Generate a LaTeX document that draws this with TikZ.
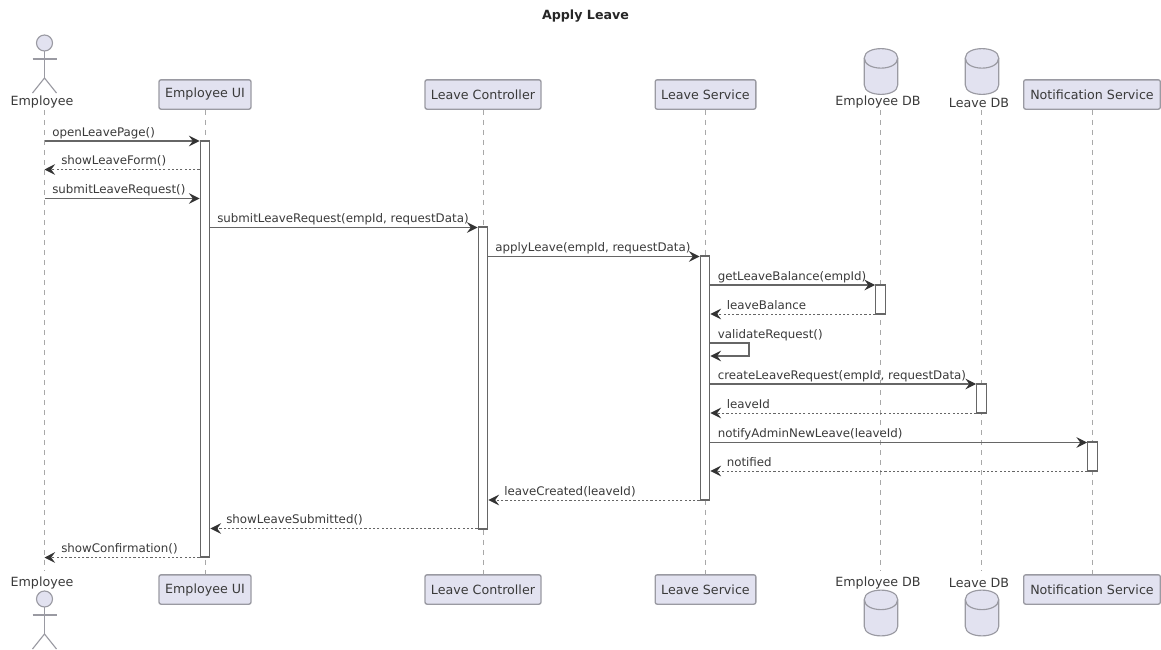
\documentclass[tikz,border=0pt]{standalone}
\usepackage{fontspec}
\setmainfont{DejaVu Sans}
\usetikzlibrary{arrows.meta}
\definecolor{partfill}{HTML}{E2E2F0}
\definecolor{partline}{HTML}{9A9AA2}
\definecolor{inktext}{HTML}{3A3A3A}
\definecolor{lifeline}{HTML}{A8A8A8}
\definecolor{barline}{HTML}{666666}
\tikzset{
  partbox/.style={draw=partline,fill=partfill,line width=1pt,rounded corners=1.5pt,minimum height=22pt,inner sep=0pt,text=inktext,font=\fontsize{9.5pt}{11pt}\selectfont},
  plainlabel/.style={inner sep=0pt,text=inktext,font=\fontsize{9.5pt}{11pt}\selectfont},
  msglabel/.style={inner sep=0pt,anchor=base west,text=inktext,font=\fontsize{8.88pt}{10pt}\selectfont},
  lifelinestyle/.style={draw=lifeline,line width=0.7pt,dash pattern=on 3.75pt off 3.75pt},
  barbox/.style={draw=barline,fill=white,line width=1pt,minimum width=7.2pt,inner sep=0pt},
  callarrow/.style={draw=barline,line width=0.8pt,-{Stealth[length=8pt,width=8pt,inset=3pt,color=black!80]}},
  retarrow/.style={draw=barline,line width=0.65pt,dash pattern=on 1.6pt off 1.6pt,-{Stealth[length=8pt,width=8pt,inset=3pt,color=black!80]}},
  figure/.style={draw=partline,line width=0.85pt},
  dbshape/.style={draw=partline,fill=partfill,line width=0.85pt}
}
% actor with its head centred at (#1,#2)
\newcommand{\actorfig}[2]{%
  \draw[figure,fill=partfill] (#1,#2) circle (6pt);
  \draw[figure] (#1,#2+8) -- (#1,#2+35);
  \draw[figure] (#1-12,#2+16) -- (#1+12,#2+16);
  \draw[figure] (#1-12,#2+50) -- (#1,#2+35) -- (#1+12,#2+50);
}
% database: left x #1, top y #2
\newcommand{\dbfig}[2]{%
  \draw[dbshape] (#1,#2+9.5) .. controls (#1,#2-3) and (#1+33.4,#2-3) .. (#1+33.4,#2+9.5)
    -- (#1+33.4,#2+36.5) .. controls (#1+33.4,#2+49) and (#1,#2+49) .. (#1,#2+36.5) -- cycle;
  \draw[dbshape,fill=none] (#1,#2+9.5) .. controls (#1,#2+23) and (#1+33.4,#2+23) .. (#1+33.4,#2+9.5);
}
% #1 from, #2 to, #3 y, #4 style, #5 label x, #6 text
\newcommand{\msgline}[6]{%
  \draw[#4] (#1 |- 0,#3) -- (#2 |- 0,#3);
  \node[msglabel] at (#5,#3-5) {#6};
}
\begin{document}
\begin{tikzpicture}[x=0.75pt,y=-0.75pt]
\useasboundingbox[fill=white] (0,0) rectangle (1161,650);
\node[inner sep=0pt,text=black!85,font=\fontsize{9.5pt}{11pt}\selectfont\bfseries] (title) at (585.5,16) {Apply Leave};

% actors and databases
\actorfig{44.5}{43}
\actorfig{44.5}{599}
\dbfig{864.3}{48.5}
\dbfig{965.3}{48.5}
\dbfig{864.3}{590}
\dbfig{965.3}{590}

% top participants
\node[plainlabel] (empT) at (42,102.5) {Employee};
\node[partbox,minimum width=69pt] (uiT) at (205,94.5) {Employee UI};
\node[partbox,minimum width=87pt] (lcT) at (483,94.5) {Leave Controller};
\node[partbox,minimum width=75.5pt] (lsT) at (705.5,94.5) {Leave Service};
\node[plainlabel] (edbT) at (878,102.5) {Employee DB};
\node[plainlabel] (ldbT) at (979,102.5) {Leave DB};
\node[partbox,minimum width=102.5pt] (nsT) at (1092,94.5) {Notification Service};

% bottom participants
\node[plainlabel] (empB) at (42,583) {Employee};
\node[partbox,minimum width=69pt] (uiB) at (205,589.5) {Employee UI};
\node[partbox,minimum width=87pt] (lcB) at (483,589.5) {Leave Controller};
\node[partbox,minimum width=75.5pt] (lsB) at (705.5,589.5) {Leave Service};
\node[plainlabel] (edbB) at (878,583) {Employee DB};
\node[plainlabel] (ldbB) at (979,583) {Leave DB};
\node[partbox,minimum width=102.5pt] (nsB) at (1092,589.5) {Notification Service};

% lifelines
\coordinate (empL) at (44.5,110);   \coordinate (empE) at (44.5,571);
\coordinate (edbL) at (880.5,110);  \coordinate (edbE) at (880.5,571);
\coordinate (ldbL) at (981.5,110);  \coordinate (ldbE) at (981.5,571);
\draw[lifelinestyle] (empL) -- (empE);
\draw[lifelinestyle] (uiT.south) -- (uiB.north);
\draw[lifelinestyle] (lcT.south) -- (lcB.north);
\draw[lifelinestyle] (lsT.south) -- (lsB.north);
\draw[lifelinestyle] (edbL) -- (edbE);
\draw[lifelinestyle] (ldbL) -- (ldbE);
\draw[lifelinestyle] (nsT.south) -- (nsB.north);

% activation bars
\node[barbox,minimum height=312pt] (uiBar) at (205,349) {};
\node[barbox,minimum height=226.5pt] (lcBar) at (483,378) {};
\node[barbox,minimum height=183pt] (lsBar) at (705,378) {};
\node[barbox,minimum height=21.75pt] (edbBar) at (880.5,299.5) {};
\node[barbox,minimum height=21.75pt] (ldbBar) at (981.5,398.5) {};
\node[barbox,minimum height=21.75pt] (nsBar) at (1092.5,456.5) {};

% messages
\msgline{empL}{uiBar.west}{141}{callarrow}{52}{openLeavePage()}
\msgline{uiBar.west}{empL}{169.5}{retarrow}{61}{showLeaveForm()}
\msgline{empL}{uiBar.west}{198.5}{callarrow}{52}{submitLeaveRequest()}
\msgline{uiBar.east}{lcBar.west}{227.5}{callarrow}{217}{submitLeaveRequest(empId, requestData)}
\msgline{lcBar.east}{lsBar.west}{256.5}{callarrow}{495}{applyLeave(empId, requestData)}
\msgline{lsBar.east}{edbBar.west}{285}{callarrow}{717.5}{getLeaveBalance(empId)}
\msgline{edbBar.west}{lsBar.east}{314}{retarrow}{726.5}{leaveBalance}

\coordinate (selfA) at (749,343);
\coordinate (selfB) at (749,356);
\draw[callarrow] (lsBar.east |- selfA) -- (selfA) -- (selfB) -- (lsBar.east |- selfB);
\node[msglabel] at (717.5,338) {validateRequest()};

\msgline{lsBar.east}{ldbBar.west}{384}{callarrow}{717.5}{createLeaveRequest(empId, requestData)}
\msgline{ldbBar.west}{lsBar.east}{413}{retarrow}{726.5}{leaveId}
\msgline{lsBar.east}{nsBar.west}{442.5}{callarrow}{717.5}{notifyAdminNewLeave(leaveId)}
\msgline{nsBar.west}{lsBar.east}{471}{retarrow}{726.5}{notified}
\msgline{lsBar.west}{lcBar.east}{500}{retarrow}{504}{leaveCreated(leaveId)}
\msgline{lcBar.west}{uiBar.east}{528.5}{retarrow}{226}{showLeaveSubmitted()}
\msgline{uiBar.west}{empL}{557.5}{retarrow}{61}{showConfirmation()}
\end{tikzpicture}
\end{document}
